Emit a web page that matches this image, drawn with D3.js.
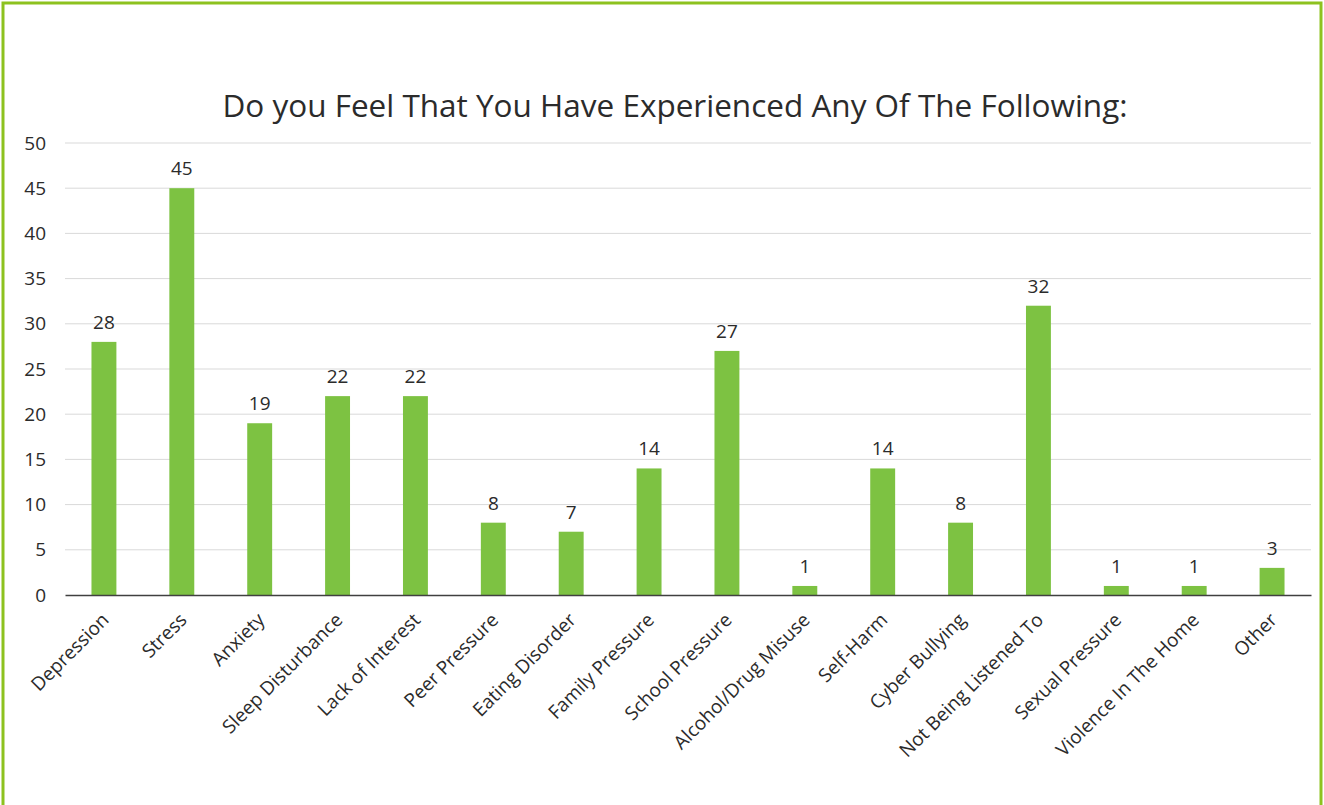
<!DOCTYPE html>
<html>
<head>
<meta charset="utf-8">
<script src="https://cdn.jsdelivr.net/npm/d3@7"></script>
<style>
  body { margin: 0; background: #fff; }
  svg { display: block; }
</style>
</head>
<body>
<div id="chart"></div>
<script>
const categories = ["Depression", "Stress", "Anxiety", "Sleep Disturbance", "Lack of Interest",
  "Peer Pressure", "Eating Disorder", "Family Pressure", "School Pressure", "Alcohol/Drug Misuse",
  "Self-Harm", "Cyber Bullying", "Not Being Listened To", "Sexual Pressure", "Violence In The Home", "Other"];
const counts = [28, 45, 19, 22, 22, 8, 7, 14, 27, 1, 14, 8, 32, 1, 1, 3];
const yTicks = [0, 5, 10, 15, 20, 25, 30, 35, 40, 45, 50];

const W = 1324, H = 805;
const margin = {top: 143, right: 13, bottom: 210, left: 65},
      width = W - margin.left - margin.right,
      height = H - margin.top - margin.bottom;

const textColor = "#2b2b2b";

const root = d3.select("#chart")
  .append("svg")
  .attr("width", W)
  .attr("height", H)
  .style("font-family", "'Open Sans', sans-serif");

// outer green frame (bottom edge runs off the picture)
root.append("rect")
  .attr("x", 3).attr("y", 3)
  .attr("width", W - 6).attr("height", H + 4)
  .attr("fill", "none")
  .attr("stroke", "#8dc21f")
  .attr("stroke-width", 3);

root.append("text")
  .attr("x", 675).attr("y", 117)
  .attr("text-anchor", "middle")
  .style("font-size", "31.5px")
  .style("fill", textColor)
  .text("Do you Feel That You Have Experienced Any Of The Following:");

const svg = root.append("g")
  .attr("transform", `translate(${margin.left}, ${margin.top})`);

const x = d3.scaleBand()
  .domain(categories)
  .range([0, width])
  .paddingInner(0.68)
  .paddingOuter(0.34);

const y = d3.scaleLinear()
  .domain([0, 50])
  .range([height, 0]);

// gridlines
svg.append("g")
  .selectAll("line")
  .data(yTicks.slice(1))
  .join("line")
    .attr("x1", 0).attr("x2", width)
    .attr("y1", d => y(d)).attr("y2", d => y(d))
    .attr("stroke", "#d9d9d9")
    .attr("stroke-width", 1);

// y axis (labels only)
const yAxis = svg.append("g")
  .call(d3.axisLeft(y).tickValues(yTicks).tickSize(0).tickPadding(19));
yAxis.select(".domain").remove();
yAxis.selectAll("text")
  .style("font-size", "19px")
  .style("fill", textColor)
  .style("font-family", "'Open Sans', sans-serif");

// bars
svg.append("g")
  .selectAll("rect")
  .data(counts)
  .join("rect")
    .attr("x", (d, i) => x(categories[i]))
    .attr("y", d => y(d))
    .attr("width", x.bandwidth())
    .attr("height", d => height - y(d))
    .attr("fill", "#7dc242");

// value labels
svg.append("g")
  .selectAll("text")
  .data(counts)
  .join("text")
    .attr("x", (d, i) => x(categories[i]) + x.bandwidth() / 2)
    .attr("y", d => y(d) - 13)
    .attr("text-anchor", "middle")
    .style("font-size", "19px")
    .style("fill", textColor)
    .text(d => d);

// x axis
const xAxis = svg.append("g")
  .attr("transform", `translate(0, ${height})`)
  .call(d3.axisBottom(x).tickSize(0).tickSizeOuter(0));
xAxis.select(".domain")
  .attr("stroke", "#404040")
  .attr("stroke-width", 1.5);
xAxis.selectAll("text")
  .style("font-size", "19px")
  .style("fill", textColor)
  .style("font-family", "'Open Sans', sans-serif")
  .style("text-anchor", "end")
  .attr("dy", "0")
  .attr("transform", "translate(4, 24) rotate(-45)");
</script>
</body>
</html>
